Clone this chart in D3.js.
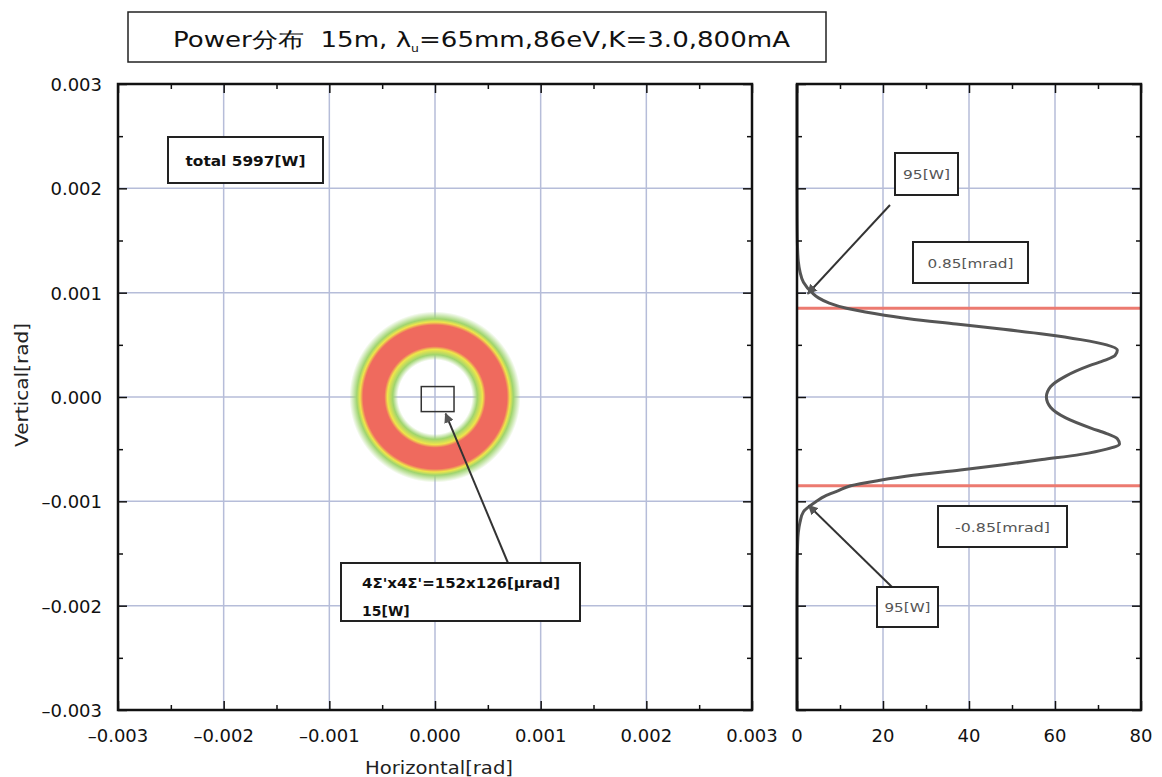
<!DOCTYPE html>
<html>
<head>
<meta charset="utf-8">
<script src="https://cdn.jsdelivr.net/npm/d3@7"></script>
<style>
  body { margin: 0; background: #fff; }
  text { font-family: "DejaVu Sans", "Liberation Sans", sans-serif; fill: #111; }
</style>
</head>
<body>
<div id="chart"></div>
<script>
// Chart data
var titleText = "Power分布  15m, λ";
var titleTail = "=65mm,86eV,K=3.0,800mA";
var axisTicks = [-0.003, -0.002, -0.001, 0.000, 0.001, 0.002, 0.003];
var powerTicks = [0, 20, 40, 60, 80];

// ring bands of the 2D power map (radius in rad, colour, opacity)
var ringRadius = [0.00035, 0.00040, 0.00045, 0.00048, 0.00068, 0.00071, 0.00074, 0.00081];
var ringColor  = ["#9fd46e", "#9fd46e", "#efe64a", "#ef6a5e", "#ef6a5e", "#efe64a", "#9fd46e", "#9fd46e"];
var ringAlpha  = [0, 1, 1, 1, 1, 1, 1, 0];

// vertical profile: angle [rad] vs power [W]
var vAngle = [-0.003, -0.002, -0.0016, -0.0014, -0.0013, -0.0012, -0.0011, -0.001, -0.00095, -0.0009,
  -0.00085, -0.0008, -0.00075, -0.0007, -0.00065, -0.0006, -0.00055, -0.0005, -0.00045, -0.0004,
  -0.00035, -0.0003, -0.0002, -0.0001, 0, 0.0001, 0.0002, 0.0003, 0.00035, 0.0004, 0.00045, 0.0005,
  0.00055, 0.0006, 0.00065, 0.0007, 0.00075, 0.0008, 0.00085, 0.0009, 0.00095, 0.001, 0.0011,
  0.0012, 0.0013, 0.0014, 0.0016, 0.002, 0.003];
var vPower = [0, 0, 0.05, 0.15, 0.3, 0.7, 1.5, 4.5, 6.5, 9.5,
  12.5, 19, 27, 38, 48, 57, 66, 72, 75, 74.5,
  72, 68.5, 62.5, 59, 58, 59, 62.5, 68, 71.5, 74, 74.5, 72,
  66, 58, 48, 37, 26, 18, 11.5, 7.5, 5, 3.5, 1.5,
  0.7, 0.3, 0.15, 0.05, 0, 0];

var cutAngles = [0.00085, -0.00085];

// Layout
var svgWidth = 1162, svgHeight = 777;
var left = {x0: 118, x1: 752, y0: 84, y1: 710};
var right = {x0: 797, x1: 1141};

var svg = d3.select("#chart").append("svg")
  .attr("width", svgWidth).attr("height", svgHeight);
var defs = svg.append("defs");

var xScale = d3.scaleLinear().domain([-0.003, 0.003]).range([left.x0, left.x1]);
var yScale = d3.scaleLinear().domain([-0.003, 0.003]).range([left.y1, left.y0]);
var pScale = d3.scaleLinear().domain([0, 80]).range([right.x0, right.x1]);

var fmt = d => d3.format(".3f")(d).replace("−", "–");
var gridColor = "#b6bdd9";

// ---------- title ----------
svg.append("rect").attr("x", 128).attr("y", 12).attr("width", 698).attr("height", 50)
  .attr("fill", "#fff").attr("stroke", "#222").attr("stroke-width", 1.5);
var title = svg.append("text").attr("x", 173).attr("y", 47)
  .attr("textLength", 617).attr("lengthAdjust", "spacingAndGlyphs")
  .style("white-space", "pre")
  .style("font-size", "21px");
title.append("tspan").text(titleText);
title.append("tspan").text("u").attr("dy", 5).style("font-size", "10px");
title.append("tspan").text(titleTail).attr("dy", -5);

// ---------- left panel: 2D map ----------
var mapG = svg.append("g");

// grid
mapG.selectAll(".vgrid").data(axisTicks.slice(1, -1)).enter().append("line")
  .attr("x1", d => xScale(d)).attr("x2", d => xScale(d))
  .attr("y1", left.y0).attr("y2", left.y1)
  .attr("stroke", gridColor).attr("stroke-width", 1.5);
mapG.selectAll(".hgrid").data(axisTicks.slice(1, -1)).enter().append("line")
  .attr("y1", d => yScale(d)).attr("y2", d => yScale(d))
  .attr("x1", left.x0).attr("x2", left.x1)
  .attr("stroke", gridColor).attr("stroke-width", 1.5);

// ring (radial gradient)
var rOuter = ringRadius[ringRadius.length - 1];
var grad = defs.append("radialGradient").attr("id", "ring")
  .attr("cx", "50%").attr("cy", "50%").attr("r", "50%");
grad.selectAll("stop").data(ringRadius).enter().append("stop")
  .attr("offset", d => (d / rOuter * 100) + "%")
  .attr("stop-color", (d, i) => ringColor[i])
  .attr("stop-opacity", (d, i) => ringAlpha[i]);
mapG.append("circle")
  .attr("cx", xScale(0)).attr("cy", yScale(0))
  .attr("r", xScale(rOuter) - xScale(0))
  .attr("fill", "url(#ring)");

// central aperture box
mapG.append("rect")
  .attr("x", xScale(-0.00013)).attr("y", yScale(0.0001))
  .attr("width", xScale(0.00018) - xScale(-0.00013))
  .attr("height", yScale(-0.00014) - yScale(0.0001))
  .attr("fill", "none").attr("stroke", "#333").attr("stroke-width", 1.5);

// axes: inward ticks on all four sides
function frameAxes(g, xs, ys, xTicks, xMinor, yTicks, yMinor) {
  var x0 = xs.range()[0], x1 = xs.range()[1], y0 = ys.range()[1], y1 = ys.range()[0];
  g.append("g").attr("transform", `translate(0,${y1})`)
    .call(d3.axisBottom(xs).tickValues(xTicks).tickSize(-9).tickFormat(""));
  g.append("g").attr("transform", `translate(0,${y1})`)
    .call(d3.axisBottom(xs).tickValues(xMinor).tickSize(-5).tickFormat(""));
  g.append("g").attr("transform", `translate(0,${y0})`)
    .call(d3.axisTop(xs).tickValues(xTicks).tickSize(-9).tickFormat(""));
  g.append("g").attr("transform", `translate(0,${y0})`)
    .call(d3.axisTop(xs).tickValues(xMinor).tickSize(-5).tickFormat(""));
  g.append("g").attr("transform", `translate(${x0},0)`)
    .call(d3.axisLeft(ys).tickValues(yTicks).tickSize(-9).tickFormat(""));
  g.append("g").attr("transform", `translate(${x0},0)`)
    .call(d3.axisLeft(ys).tickValues(yMinor).tickSize(-5).tickFormat(""));
  g.append("g").attr("transform", `translate(${x1},0)`)
    .call(d3.axisRight(ys).tickValues(yTicks).tickSize(-9).tickFormat(""));
  g.append("g").attr("transform", `translate(${x1},0)`)
    .call(d3.axisRight(ys).tickValues(yMinor).tickSize(-5).tickFormat(""));
  g.selectAll(".domain").remove();
  g.selectAll(".tick line").attr("stroke", "#111").attr("stroke-width", 1.5);
  g.append("rect").attr("x", x0).attr("y", y0).attr("width", x1 - x0).attr("height", y1 - y0)
    .attr("fill", "none").attr("stroke", "#111").attr("stroke-width", 2.5);
}

var minorTicks = d3.range(-0.0025, 0.003, 0.001);
frameAxes(svg.append("g"), xScale, yScale, axisTicks, minorTicks, axisTicks, minorTicks);

// tick labels
svg.append("g").selectAll("text").data(axisTicks).enter().append("text")
  .attr("x", d => xScale(d)).attr("y", 742).attr("text-anchor", "middle")
  .style("font-size", "18px").text(d => fmt(d));
svg.append("g").selectAll("text").data(axisTicks).enter().append("text")
  .attr("x", 102).attr("y", d => yScale(d) + 7).attr("text-anchor", "end")
  .style("font-size", "18px").text(d => fmt(d));

svg.append("text").attr("x", 365).attr("y", 774)
  .attr("textLength", 148).attr("lengthAdjust", "spacingAndGlyphs")
  .style("font-size", "18px").style("fill", "#222").text("Horizontal[rad]");
svg.append("text").attr("transform", `translate(28,447) rotate(-90)`)
  .attr("textLength", 124).attr("lengthAdjust", "spacingAndGlyphs")
  .style("font-size", "18px").style("fill", "#222").text("Vertical[rad]");

// annotations
function labelBox(x, y, w, h, lines, opts) {
  opts = opts || {};
  svg.append("rect").attr("x", x).attr("y", y).attr("width", w).attr("height", h)
    .attr("fill", "#fff").attr("stroke", "#222").attr("stroke-width", 2);
  lines.forEach(function (t, i) {
    var tx = svg.append("text")
      .attr("x", opts.tx !== undefined ? opts.tx : x + w / 2)
      .attr("y", y + (opts.dy || h / 2 + 5) + i * 28)
      .attr("text-anchor", opts.tx !== undefined ? "start" : "middle")
      .style("font-size", (opts.size || 13) + "px")
      .style("font-weight", opts.bold ? "bold" : "normal")
      .style("fill", opts.color || "#111")
      .text(t);
    if (opts.len && opts.len[i]) tx.attr("textLength", opts.len[i]).attr("lengthAdjust", "spacingAndGlyphs");
  });
}

defs.append("marker").attr("id", "head")
  .attr("viewBox", "0 0 10 10").attr("refX", 9).attr("refY", 5)
  .attr("markerWidth", 5).attr("markerHeight", 5).attr("orient", "auto")
  .append("path").attr("d", "M0,0 L10,5 L0,10 z").attr("fill", "#555");

function arrow(xa, ya, xb, yb) {
  svg.append("line").attr("x1", xa).attr("y1", ya).attr("x2", xb).attr("y2", yb)
    .attr("stroke", "#333").attr("stroke-width", 2).attr("marker-end", "url(#head)");
}

labelBox(168, 137, 155, 46, ["total 5997[W]"], {bold: true, size: 14, len: [120], dy: 29});
arrow(508, 563, xScale(0.00010), yScale(-0.00014) + 2);
labelBox(341, 563, 239, 58, ["4Σ'x4Σ'=152x126[μrad]", "15[W]"],
  {tx: 362, dy: 25, bold: true, size: 14, len: [198, 0]});

// ---------- right panel: vertical profile ----------
var prof = svg.append("g");
var pScaleY = d3.scaleLinear().domain([-0.003, 0.003]).range([left.y1, left.y0]);

prof.selectAll(".vgrid").data(powerTicks.slice(1, -1)).enter().append("line")
  .attr("x1", d => pScale(d)).attr("x2", d => pScale(d))
  .attr("y1", left.y0).attr("y2", left.y1)
  .attr("stroke", gridColor).attr("stroke-width", 1.5);
prof.selectAll(".hgrid").data(axisTicks.slice(1, -1)).enter().append("line")
  .attr("y1", d => pScaleY(d)).attr("y2", d => pScaleY(d))
  .attr("x1", right.x0).attr("x2", right.x1)
  .attr("stroke", gridColor).attr("stroke-width", 1.5);

prof.selectAll(".cut").data(cutAngles).enter().append("line")
  .attr("x1", right.x0).attr("x2", right.x1)
  .attr("y1", d => pScaleY(d)).attr("y2", d => pScaleY(d))
  .attr("stroke", "#ec7a70").attr("stroke-width", 3);

var line = d3.line()
  .x((d, i) => pScale(vPower[i]))
  .y(d => pScaleY(d))
  .curve(d3.curveMonotoneY);
prof.append("path").datum(vAngle)
  .attr("d", line).attr("fill", "none")
  .attr("stroke", "#555").attr("stroke-width", 3);

frameAxes(svg.append("g"), pScale, pScaleY, powerTicks, [10, 30, 50, 70], axisTicks, minorTicks);

svg.append("g").selectAll("text").data(powerTicks).enter().append("text")
  .attr("x", d => pScale(d)).attr("y", 742).attr("text-anchor", "middle")
  .style("font-size", "18px").text(d => d);

arrow(890, 205, pScale(2.5), pScaleY(0.00099));
labelBox(895, 153, 63, 42, ["95[W]"], {size: 13, color: "#555", len: [47]});
labelBox(913, 242, 115, 41, ["0.85[mrad]"], {size: 13, color: "#555", len: [86]});
labelBox(938, 506, 129, 41, ["-0.85[mrad]"], {size: 13, color: "#555", len: [95]});
arrow(892, 587, pScale(2.7), pScaleY(-0.00104));
labelBox(877, 587, 61, 40, ["95[W]"], {size: 13, color: "#555", len: [46]});
</script>
</body>
</html>
